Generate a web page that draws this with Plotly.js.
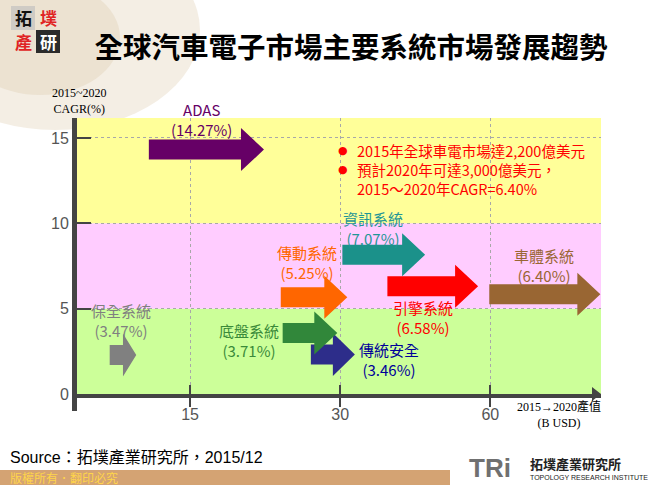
<!DOCTYPE html>
<html><head><meta charset="utf-8">
<script src="https://cdn.plot.ly/plotly-3.0.1.min.js"></script>
<style>html,body{margin:0;padding:0;background:#fff}#chart{width:650px;height:485px}</style>
</head><body><div id="chart"></div>
<script>
// ---- data ----
const systems    = ['ADAS', '資訊系統', '傳動系統', '引擎系統', '車體系統', '底盤系統', '傳統安全', '保全系統'];
const cagr       = [14.27, 7.07, 5.25, 6.58, 6.40, 3.71, 3.46, 3.47];      // % shown in labels
const value2015  = [12.4, 30.3, 22.8, 37.3, 59.7, 23.0, 26.2, 10.35];      // arrow start (B USD)
const value2020  = [21.1, 44.4, 31.0, 56.7, 99.7, 29.6, 32.1, 11.7];       // arrow end (B USD)
const arrowLevel = [14.32, 8.16, 5.67, 6.32, 5.85, 3.58, 2.31, 2.28];      // arrow height on CAGR axis as drawn
const labelX     = [15.8, 34.9, 25.7, 44.0, 76.8, 19.7, 37.6, 10.9];
const labelY     = [16.09, 9.71, 7.72, 4.48, 7.51, 3.15, 2.03, 4.33];
const xTicks = [15, 30, 60];
const yTicks = [0, 5, 10, 15];
const bandEdges = [0, 5, 10, 16.17];
const notes = ['2015年全球車電市場達2,200億美元', '預計2020年可達3,000億美元，', '2015～2020年CAGR=6.40%'];

// ---- styles ----
const arrowColors = ['#660066', '#1B918A', '#FF6600', '#FF0000', '#996633', '#31873A', '#2D2D8A', '#808080'];
const textColors  = ['#660066', '#1F9696', '#FF6600', '#FF0000', '#996633', '#3A8A3A', '#000099', '#808080'];
const bandColors  = ['#CCFF99', '#FFCCFF', '#FFFF99'];
const drawOrder = [0, 1, 3, 4, 2, 6, 5, 7];

const W = 650, H = 485, L = 77, R = 49, T = 118, B = 91;
const plotW = W - L - R, plotH = H - T - B;
const xRange = [Math.log10(8.9), 2.0];
const yRange = [0, 16.17];
const pxPerDec = plotW / (xRange[1] - xRange[0]);
const pxPerUnit = plotH / (yRange[1] - yRange[0]);
const bodyHalf = 10 / pxPerUnit, headHalf = 21.5 / pxPerUnit, headLenMax = 23 / pxPerDec;

const paperX = px => (px - L) / plotW;
const paperY = py => (H - B - py) / plotH;
const dataToPaperX = v => (Math.log10(v) - xRange[0]) / (xRange[1] - xRange[0]);

const CJK = 'Noto Sans CJK TC, Noto Sans, sans-serif';

const traces = [];
drawOrder.forEach(i => {
  const u0 = Math.log10(value2015[i]), u1 = Math.log10(value2020[i]);
  const hl = Math.min(headLenMax, 0.5 * (u1 - u0));
  const y = arrowLevel[i];
  const us = [u0, u1 - hl, u1 - hl, u1, u1 - hl, u1 - hl, u0, u0];
  const ys = [y - bodyHalf, y - bodyHalf, y - headHalf, y, y + headHalf, y + bodyHalf, y + bodyHalf, y - bodyHalf];
  traces.push({
    type: 'scatter', mode: 'lines', x: us.map(u => Math.pow(10, u)), y: ys,
    fill: 'toself', fillcolor: arrowColors[i], line: {width: 0, color: arrowColors[i]},
    hoverinfo: 'skip', showlegend: false, name: systems[i]
  });
});
// axis arrowheads
traces.push({type: 'scatter', mode: 'markers', x: [Math.pow(10, xRange[0])], y: [yRange[1]],
  marker: {symbol: 'triangle-up', size: 12, color: '#444'}, cliponaxis: false, hoverinfo: 'skip', showlegend: false});
traces.push({type: 'scatter', mode: 'markers', xaxis: 'x2', x: [Math.pow(10, xRange[1] - 6 / pxPerDec)], y: [0],
  marker: {symbol: 'triangle-right', size: 12, color: '#444'}, cliponaxis: false, hoverinfo: 'skip', showlegend: false});

const shapes = [];
// decorative map haze top-left
shapes.push({type: 'circle', xref: 'paper', yref: 'paper', x0: paperX(-90), x1: paperX(200), y0: paperY(130), y1: paperY(-70),
  fillcolor: '#E6D9C3', opacity: 0.45, line: {width: 0}, layer: 'below'});
shapes.push({type: 'circle', xref: 'paper', yref: 'paper', x0: paperX(-40), x1: paperX(120), y0: paperY(95), y1: paperY(-20),
  fillcolor: '#DCCBB0', opacity: 0.35, line: {width: 0}, layer: 'below'});
// bands
for (let b = 0; b < 3; b++) {
  shapes.push({type: 'rect', xref: 'paper', yref: 'y', x0: 0, x1: 1, y0: bandEdges[b], y1: bandEdges[b + 1],
    fillcolor: bandColors[b], line: {width: 0}, layer: 'below'});
}
// y-axis extension below origin
shapes.push({type: 'line', xref: 'paper', yref: 'paper', x0: paperX(74.5), x1: paperX(74.5), y0: paperY(394), y1: paperY(411),
  line: {color: '#444', width: 5}});
// logo cells
shapes.push({type: 'rect', xref: 'paper', yref: 'paper', x0: paperX(36), x1: paperX(60), y0: paperY(53), y1: paperY(30),
  fillcolor: '#2b2b2b', line: {width: 0}});
shapes.push({type: 'rect', xref: 'paper', yref: 'paper', x0: paperX(11), x1: paperX(35), y0: paperY(30), y1: paperY(6),
  fillcolor: '#bdbdbd', line: {width: 0}, opacity: 0.6});
// bottom bar
shapes.push({type: 'rect', xref: 'paper', yref: 'paper', x0: paperX(0), x1: paperX(450), y0: paperY(485), y1: paperY(470),
  fillcolor: '#D4A373', line: {width: 0}});

const annotations = [];
drawOrder.forEach(i => {
  annotations.push({xref: 'paper', yref: 'y', x: dataToPaperX(labelX[i]), y: labelY[i],
    text: systems[i] + '<br>(' + cagr[i].toFixed(2) + '%)', showarrow: false, xanchor: 'center', yanchor: 'middle',
    font: {family: CJK, size: 15, color: textColors[i]}, align: 'center'});
});
// notes
const noteY = [150, 169, 188];
notes.forEach((t, k) => {
  annotations.push({xref: 'paper', yref: 'paper', x: paperX(355), y: paperY(noteY[k]), text: t, showarrow: false,
    xanchor: 'left', yanchor: 'middle', font: {family: CJK, size: 14.5, color: '#FF0000'}});
});
[0, 1].forEach(k => {
  annotations.push({xref: 'paper', yref: 'paper', x: paperX(343), y: paperY(noteY[k]), text: '●', showarrow: false,
    xanchor: 'center', yanchor: 'middle', font: {family: 'DejaVu Sans', size: 11, color: '#FF0000'}});
});
// axis titles
const SERIF = 'Liberation Serif, Noto Sans CJK TC, serif';
annotations.push({xref: 'paper', yref: 'paper', x: paperX(79), y: paperY(101), text: '2015~2020<br>CAGR(%)', showarrow: false,
  xanchor: 'center', yanchor: 'middle', align: 'center', font: {family: SERIF, size: 12, color: '#000'}});
annotations.push({xref: 'paper', yref: 'paper', x: paperX(559), y: paperY(414), text: '2015→2020產值<br>(B USD)', showarrow: false,
  xanchor: 'center', yanchor: 'middle', align: 'center', font: {family: SERIF, size: 12, color: '#000'}});
// source + footer
annotations.push({xref: 'paper', yref: 'paper', x: paperX(8), y: paperY(457), text: 'Source：拓墣產業研究所，2015/12', showarrow: false,
  xanchor: 'left', yanchor: 'middle', font: {family: 'Liberation Sans, Noto Sans CJK TC, sans-serif', size: 16, color: '#000'}});
annotations.push({xref: 'paper', yref: 'paper', x: paperX(8), y: paperY(477.5), text: '版權所有．翻印必究', showarrow: false,
  xanchor: 'left', yanchor: 'middle', font: {family: CJK, size: 12, color: '#FFD54A'}});
annotations.push({xref: 'paper', yref: 'paper', x: paperX(467), y: paperY(468), text: '<b>TRi</b>', showarrow: false,
  xanchor: 'left', yanchor: 'middle', font: {family: 'Liberation Sans, sans-serif', size: 26, color: '#707070'}});
annotations.push({xref: 'paper', yref: 'paper', x: paperX(528), y: paperY(463), text: '<b>拓墣產業研究所</b>', showarrow: false,
  xanchor: 'left', yanchor: 'middle', font: {family: CJK, size: 13, color: '#222'}});
annotations.push({xref: 'paper', yref: 'paper', x: paperX(528), y: paperY(477), text: 'TOPOLOGY RESEARCH INSTITUTE', showarrow: false,
  xanchor: 'left', yanchor: 'middle', font: {family: 'Liberation Sans Narrow, Liberation Sans, sans-serif', size: 7, color: '#222'}});
// logo characters
[['拓', 23, 17.5, '#111'], ['墣', 48, 17.5, '#E02424'], ['產', 23, 41.5, '#E02424'], ['研', 48, 41.5, '#FFFFFF']].forEach(c => {
  annotations.push({xref: 'paper', yref: 'paper', x: paperX(c[1]), y: paperY(c[2]), text: '<b>' + c[0] + '</b>', showarrow: false,
    xanchor: 'center', yanchor: 'middle', font: {family: CJK, size: 17, color: c[3]}});
});

const TICKFONT = {family: 'Liberation Sans Narrow, Liberation Sans, sans-serif', size: 16, color: '#555'};
const layout = {
  width: W, height: H,
  margin: {l: L, r: R, t: T, b: B, pad: 0},
  paper_bgcolor: '#ffffff', plot_bgcolor: 'rgba(0,0,0,0)',
  showlegend: false,
  title: {text: '全球汽車電子市場主要系統市場發展趨勢', x: 351 / W, xanchor: 'center', y: 1 - 48 / H, yanchor: 'middle',
    font: {family: CJK, size: 28.5, color: '#000', weight: 700}},
  xaxis: {type: 'log', range: xRange, tickvals: xTicks, ticktext: xTicks.map(String),
    showgrid: true, gridcolor: '#A8A8A8', griddash: 'dot', gridwidth: 1,
    showline: true, linecolor: '#444', linewidth: 4, ticks: 'outside', ticklen: 9, tickwidth: 2, tickcolor: '#444',
    ticklabelstandoff: -6, tickfont: TICKFONT, zeroline: false, fixedrange: true},
  xaxis2: {type: 'log', range: xRange, overlaying: 'x', anchor: 'y', side: 'bottom', tickvals: xTicks,
    showticklabels: false, ticks: 'inside', ticklen: 9, tickwidth: 2, tickcolor: '#444',
    showgrid: false, showline: false, zeroline: false, fixedrange: true},
  yaxis: {range: yRange, tickvals: yTicks, ticktext: yTicks.map(String),
    showgrid: true, gridcolor: '#A8A8A8', griddash: 'dot', gridwidth: 1,
    showline: true, linecolor: '#444', linewidth: 5, ticks: 'inside', ticklen: 14, tickwidth: 2, tickcolor: '#444',
    tickfont: TICKFONT, zeroline: false, fixedrange: true},
  shapes: shapes,
  annotations: annotations
};

Plotly.newPlot('chart', traces, layout, {displayModeBar: false, staticPlot: true});
</script>
</body></html>
